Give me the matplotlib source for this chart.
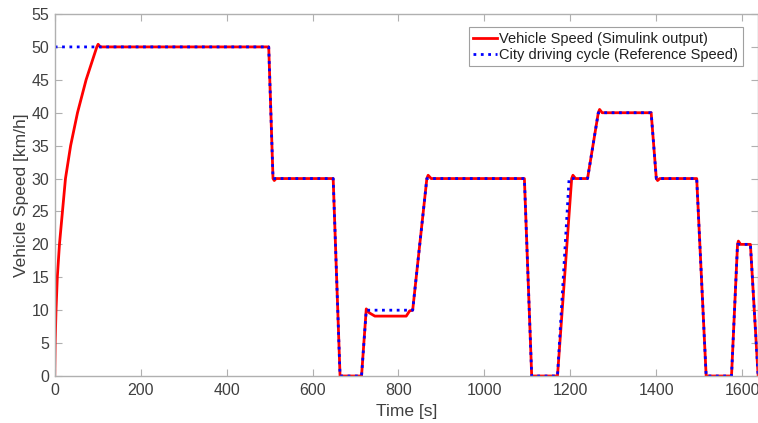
import matplotlib
matplotlib.use("Agg")
import matplotlib.pyplot as plt

plt.rcParams['font.family'] = ['Liberation Sans', 'DejaVu Sans']

# reference speed (city driving cycle)
ref_t = [0, 498, 508, 648, 664, 714, 725, 833, 866, 1093, 1110, 1170, 1197,
         1240, 1265, 1388, 1400, 1494, 1516, 1575, 1589, 1619, 1637]
ref_v = [50, 50, 30, 30, 0, 0, 10, 10, 30, 30, 0, 0, 30,
         30, 40, 40, 30, 30, 0, 0, 20, 20, 0]

# simulated vehicle speed
sim_t = [0, 1, 3, 6, 11, 18, 25, 37, 53, 73, 98, 101, 106, 498, 508, 511, 515,
         648, 664, 714, 725, 732, 745, 818, 826, 833, 866, 869, 876,
         1093, 1110, 1170, 1203, 1206, 1212, 1240, 1265, 1268, 1274,
         1388, 1400, 1403, 1408, 1494, 1516, 1575, 1589, 1591, 1596, 1619, 1637]
sim_v = [0, 5, 10, 15, 20, 25, 30, 35, 40, 45, 50, 50.4, 50, 50, 30, 29.7, 30,
         30, 0, 0, 10.2, 9.6, 9.1, 9.1, 9.9, 10, 30, 30.5, 30,
         30, 0, 0, 30, 30.5, 30, 30, 40, 40.5, 40,
         40, 30, 29.7, 30, 30, 0, 0, 20, 20.5, 20, 20, 0]

fig = plt.figure(figsize=(7.58, 4.23), dpi=100)
ax = fig.add_axes([0.0722, 0.1111, 0.928, 0.8558])

ax.plot(sim_t, sim_v, color='red', lw=2, label='Vehicle Speed (Simulink output)')
ax.plot(ref_t, ref_v, color='blue', lw=2, ls=':', label='City driving cycle (Reference Speed)')

ax.set_xlim(0, 1637)
ax.set_ylim(0, 55)
ax.set_xticks(range(0, 1601, 200))
ax.set_yticks(range(0, 56, 5))

txt = '#404040'
ax.tick_params(direction='in', top=True, right=True, length=5, width=0.8,
               colors='#b0b0b0', labelcolor=txt, labelsize=11.5)
ax.tick_params(axis='y', pad=4)
ax.tick_params(axis='x', pad=5)
for s in ax.spines.values():
    s.set_color('#b0b0b0')
    s.set_linewidth(1)

ax.set_xlabel('Time [s]', fontsize=12.5, color=txt, labelpad=4)
ax.set_ylabel('Vehicle Speed [km/h]', fontsize=12.5, color=txt, labelpad=2)

leg = ax.legend(loc='upper right', bbox_to_anchor=(0.978, 0.963), borderaxespad=0,
                fontsize=10.5, handlelength=1.6, handletextpad=0.2,
                borderpad=0.3, labelspacing=0.15, fancybox=False, framealpha=1)
leg.get_frame().set_edgecolor('#a0a0a0')
leg.get_frame().set_linewidth(0.8)
for t in leg.get_texts():
    t.set_color('#202020')

fig.savefig('out.png', dpi=100)
